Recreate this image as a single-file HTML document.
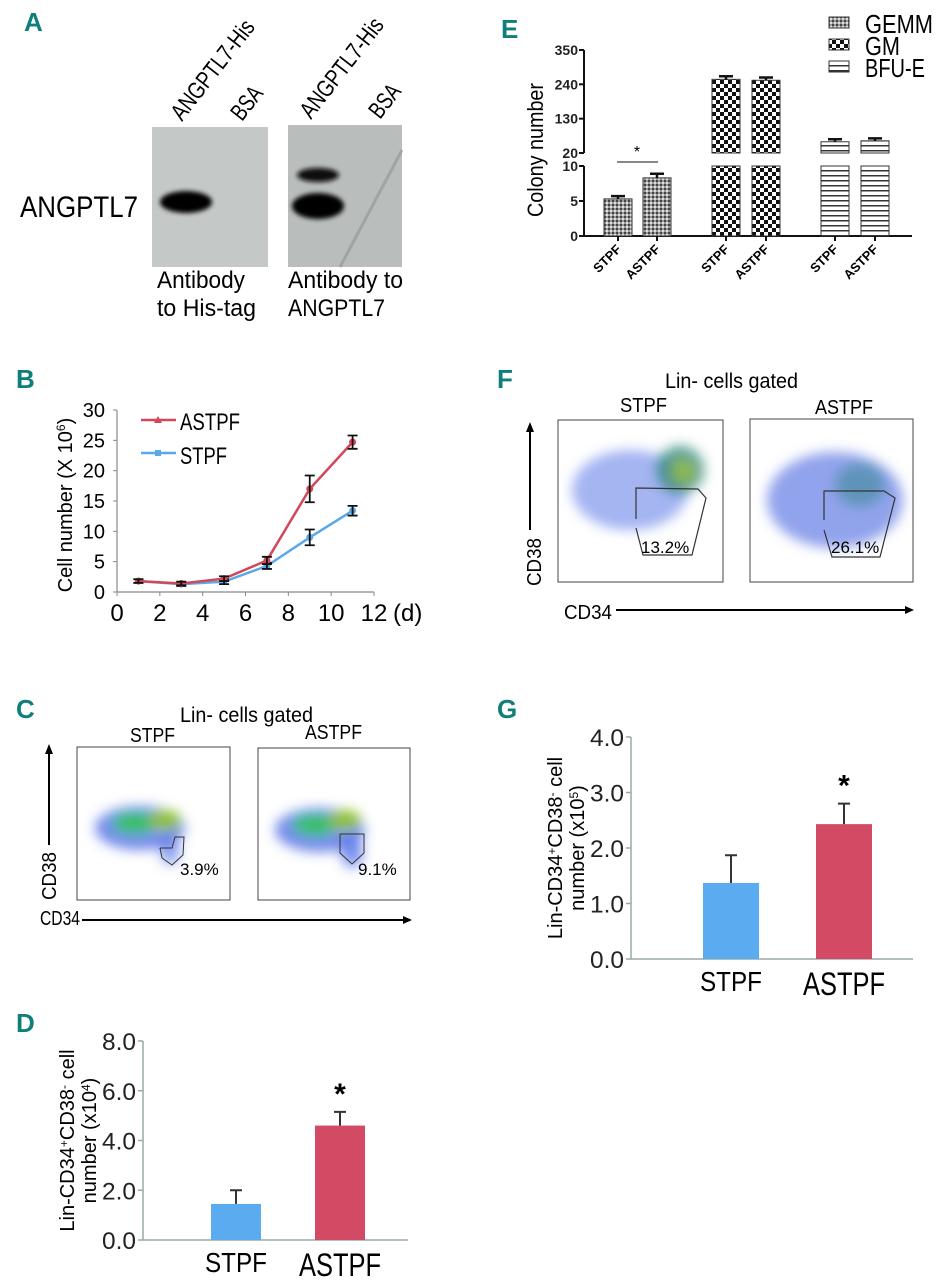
<!DOCTYPE html>
<html><head><meta charset="utf-8"><style>
html,body{margin:0;padding:0;background:#fff;}
svg{display:block;font-family:"Liberation Sans",sans-serif;}
.lt{font-family:"Liberation Sans",sans-serif;font-weight:bold;fill:#0e7f7a;font-size:26px;}
</style></head><body>
<svg id="fig" width="936" height="1280" viewBox="0 0 936 1280" xmlns="http://www.w3.org/2000/svg">
<defs>
 <filter id="bl" x="-50%" y="-50%" width="200%" height="200%"><feGaussianBlur stdDeviation="6"/></filter>
 <filter id="bl2" x="-50%" y="-50%" width="200%" height="200%"><feGaussianBlur stdDeviation="2.5"/></filter>
 <pattern id="pGEMM" width="4" height="4" patternUnits="userSpaceOnUse"><rect width="4" height="4" fill="#9a9a9a"/><rect width="2" height="2" fill="#444"/><rect x="2" y="2" width="2" height="2" fill="#ddd"/></pattern>
 <pattern id="pGM" width="8" height="8" patternUnits="userSpaceOnUse"><rect width="8" height="8" fill="#fff"/><rect width="4" height="4" fill="#111"/><rect x="4" y="4" width="4" height="4" fill="#111"/></pattern>
 <pattern id="pBFU" width="6" height="5" patternUnits="userSpaceOnUse"><rect width="6" height="5" fill="#fff"/><rect y="0" width="6" height="1.5" fill="#333"/></pattern>
</defs>

<!-- Panel A -->
<text class="lt" x="24" y="31">A</text>
<g>
 <rect x="152" y="127" width="116" height="140" fill="#c4c8c6"/>
 <rect x="288" y="125" width="114" height="142" fill="#b9bdbb"/>
 <path d="M402 150 L340 267" stroke="#8f9391" stroke-width="3" fill="none" opacity="0.6"/>
 <ellipse cx="186" cy="202" rx="26" ry="11" fill="#050505" filter="url(#bl2)"/>
 <ellipse cx="318" cy="175" rx="21" ry="7" fill="#080808" filter="url(#bl2)"/>
 <ellipse cx="318" cy="206" rx="26" ry="13" fill="#050505" filter="url(#bl2)"/>
 <text x="20" y="217" font-size="30" textLength="118" lengthAdjust="spacingAndGlyphs">ANGPTL7</text>
 <text transform="translate(182,122) rotate(-52)" font-size="24" textLength="120" lengthAdjust="spacingAndGlyphs">ANGPTL7-His</text>
 <text transform="translate(242,122) rotate(-52)" font-size="24" textLength="36" lengthAdjust="spacingAndGlyphs">BSA</text>
 <text transform="translate(311,120) rotate(-52)" font-size="24" textLength="120" lengthAdjust="spacingAndGlyphs">ANGPTL7-His</text>
 <text transform="translate(380,120) rotate(-52)" font-size="24" textLength="36" lengthAdjust="spacingAndGlyphs">BSA</text>
 <text x="157" y="288" font-size="24" textLength="88" lengthAdjust="spacingAndGlyphs">Antibody</text>
 <text x="157" y="316" font-size="24" textLength="99" lengthAdjust="spacingAndGlyphs">to His-tag</text>
 <text x="288" y="288" font-size="24" textLength="115" lengthAdjust="spacingAndGlyphs">Antibody to</text>
 <text x="288" y="316" font-size="24" textLength="97" lengthAdjust="spacingAndGlyphs">ANGPTL7</text>
</g>

<text class="lt" x="16" y="388">B</text>
<text class="lt" x="16" y="718">C</text>
<text class="lt" x="16" y="1032">D</text>
<text class="lt" x="501" y="38">E</text>
<text class="lt" x="497" y="388">F</text>
<text class="lt" x="497" y="718">G</text>

<!-- Panel C flow -->
<g>
 <text x="180" y="722" font-size="21" textLength="133" lengthAdjust="spacingAndGlyphs">Lin- cells gated</text>
 <text x="130" y="742" font-size="20" textLength="45" lengthAdjust="spacingAndGlyphs">STPF</text>
 <text x="305" y="739" font-size="20" textLength="57" lengthAdjust="spacingAndGlyphs">ASTPF</text>
 <rect x="77" y="747" width="153" height="153" fill="#fff" stroke="#444"/>
 <rect x="258" y="748" width="152" height="152" fill="#fff" stroke="#444"/>
 <g filter="url(#bl)">
  <ellipse cx="140" cy="828" rx="45" ry="22" fill="#3a5be0" opacity="0.7"/>
  <ellipse cx="135" cy="823" rx="22" ry="10" fill="#39c060"/>
  <ellipse cx="165" cy="820" rx="16" ry="10" fill="#8fc030"/>
  <ellipse cx="170" cy="850" rx="10" ry="15" fill="#4a6ae8" opacity="0.6"/>
  <ellipse cx="320" cy="830" rx="45" ry="22" fill="#3a5be0" opacity="0.7"/>
  <ellipse cx="315" cy="825" rx="22" ry="10" fill="#39c060"/>
  <ellipse cx="345" cy="820" rx="16" ry="10" fill="#8fc030"/>
  <ellipse cx="352" cy="852" rx="11" ry="16" fill="#4a6ae8" opacity="0.7"/>
 </g>
 <polyline points="160,848 162,858 172,865 183,855 184,837 175,837 172,848 160,848" fill="none" stroke="#333" stroke-width="1"/>
 <polyline points="340,834 340,853 352,864 364,853 364,834 340,834" fill="none" stroke="#333" stroke-width="1"/>
 <text x="180" y="875" font-size="17">3.9%</text>
 <text x="358" y="875" font-size="17">9.1%</text>
 <line x1="49" y1="845" x2="49" y2="752" stroke="#000" stroke-width="2"/><polygon points="45,754 53,754 49,744" fill="#000"/>
 <text transform="translate(56,900) rotate(-90)" font-size="20" textLength="48" lengthAdjust="spacingAndGlyphs">CD38</text>
 <text x="40" y="925" font-size="20" textLength="40" lengthAdjust="spacingAndGlyphs">CD34</text>
 <line x1="82" y1="920" x2="405" y2="920" stroke="#000" stroke-width="2"/><polygon points="403,916 403,924 412,920" fill="#000"/>
</g>

<!-- Panel F flow -->
<g>
 <text x="665" y="388" font-size="21" textLength="133" lengthAdjust="spacingAndGlyphs">Lin- cells gated</text>
 <text x="620" y="412" font-size="20" textLength="47" lengthAdjust="spacingAndGlyphs">STPF</text>
 <text x="815" y="414" font-size="20" textLength="58" lengthAdjust="spacingAndGlyphs">ASTPF</text>
 <rect x="558" y="420" width="165" height="162" fill="#fff" stroke="#444"/>
 <rect x="750" y="419" width="163" height="163" fill="#fff" stroke="#444"/>
 <g filter="url(#bl)">
  <ellipse cx="630" cy="490" rx="58" ry="40" fill="#5a78e8" opacity="0.55"/>
  <ellipse cx="680" cy="470" rx="24" ry="24" fill="#2f8a7a" opacity="0.8"/>
  <ellipse cx="683" cy="472" rx="12" ry="12" fill="#9ac040" opacity="0.8"/>
  <ellipse cx="835" cy="500" rx="68" ry="48" fill="#4a66e0" opacity="0.6"/>
  <ellipse cx="860" cy="485" rx="25" ry="22" fill="#3d8a9a" opacity="0.6"/>
 </g>
 <polyline points="636,519 636,488 698,489 706,498 692,555 643,555 636,528" fill="none" stroke="#333" stroke-width="1.2"/>
 <polyline points="824,520 824,491 884,491 895,498 880,557 832,557 824,530" fill="none" stroke="#333" stroke-width="1.2"/>
 <text x="641" y="553" font-size="17">13.2%</text>
 <text x="831" y="553" font-size="17">26.1%</text>
 <line x1="530" y1="530" x2="530" y2="430" stroke="#000" stroke-width="2"/><polygon points="526,432 534,432 530,422" fill="#000"/>
 <text transform="translate(541,586) rotate(-90)" font-size="20" textLength="48" lengthAdjust="spacingAndGlyphs">CD38</text>
 <text x="564" y="619" font-size="20" textLength="48" lengthAdjust="spacingAndGlyphs">CD34</text>
 <line x1="616" y1="610" x2="906" y2="610" stroke="#000" stroke-width="2"/><polygon points="905,606 905,614 914,610" fill="#000"/>
</g>

<g id="chartB"></g>
<g id="chartE"></g>
<g id="chartG"></g>
<g id="chartD"></g>
</svg>
<script>
const NS="http://www.w3.org/2000/svg";
// ---- Panel B data
const daysB=[1,3,5,7,9,11];
const astpfB=[1.8,1.4,2.2,5.2,17,24.7];
const astpfErrB=[0.3,0.3,0.4,0.6,2.2,1.1];
const stpfB=[1.8,1.3,1.7,4.3,9,13.4];
const stpfErrB=[0.3,0.3,0.4,0.5,1.3,0.8];
const xTicksB=[0,2,4,6,8,10,12];
const yTicksB=[0,5,10,15,20,25,30];
// ---- Panel E data
const eGroups=["GEMM","GM","BFU-E"];
const eConds=["STPF","ASTPF"];
const eValues=[5.3,8.3,256,253,56,59];
const eErrors=[0.4,0.6,10,9,8,8];
const eTicksLow=[0,5,10];
const eTicksHigh=[20,130,240,350];
// ---- Panel G data
const gCats=["STPF","ASTPF"];
const gValues=[1.37,2.43];
const gErrors=[0.5,0.37];
const gTicks=[0,1,2,3,4];
// ---- Panel D data
const dCats=["STPF","ASTPF"];
const dValues=[1.45,4.6];
const dErrors=[0.55,0.55];
const dTicks=[0,2,4,6,8];

function mk(tag,attrs,parent){const e=document.createElementNS(NS,tag);for(const k in attrs)e.setAttribute(k,attrs[k]);parent.appendChild(e);return e;}

// ===== Panel B
(function(){
 const g=document.getElementById('chartB');
 const xs=v=>117+(v/12)*(374-117);
 const ys=v=>592-(v/30)*(592-410);
 let ax=mk('path',{d:`M117 410 L117 592 L374 592`,stroke:'#888',fill:'none','stroke-width':1.2},g);
 
 
 yTicksB.forEach(t=>{
  mk('line',{x1:113,x2:117,y1:ys(t),y2:ys(t),stroke:'#888'},g);
  let tx=mk('text',{x:105,y:ys(t)+7,'font-size':20,'text-anchor':'end'},g);tx.textContent=t;
  
  
 });
 xTicksB.forEach(t=>{
  mk('line',{x1:xs(t),x2:xs(t),y1:592,y2:596,stroke:'#888'},g);
  let tx=mk('text',{x:xs(t),y:621,'font-size':24,'text-anchor':'middle'},g);tx.textContent=t;
  
  
 });
 let dl=mk('text',{x:393,y:621,'font-size':24},g);dl.textContent='(d)';
 
 
 let yl=mk('text',{transform:'translate(72,505) rotate(-90)','font-size':20,'text-anchor':'middle'},g);
 yl.innerHTML='Cell number (X 10<tspan font-size="12" dy="-7">6</tspan><tspan dy="7">)</tspan>';
 
 
 [[stpfB,stpfErrB,'#5aa8e8','stpf'],[astpfB,astpfErrB,'#d0485a','astpf']].forEach(([vals,errs,col,nm])=>{
  let p=mk('polyline',{points:daysB.map((d,i)=>xs(d)+','+ys(vals[i])).join(' '),stroke:col,'stroke-width':2.5,fill:'none'},g);
  
  
  daysB.forEach((d,i)=>{
   let c=mk('circle',{cx:xs(d),cy:ys(vals[i]),r:3.5,fill:col},g);
   
   
   const x=xs(d),y1=ys(vals[i]+errs[i]),y2=ys(vals[i]-errs[i]);
   let e=mk('path',{d:`M${x-5} ${y1} H${x+5} M${x} ${y1} V${y2} M${x-5} ${y2} H${x+5}`,stroke:'#111','stroke-width':1.8,fill:'none'},g);
   
   
  });
 });
 mk('line',{x1:141,x2:176,y1:420,y2:420,stroke:'#d0485a','stroke-width':2.5},g);
 mk('polygon',{points:'158,416 162,423 154,423',fill:'#d0485a'},g);
 let l1=mk('text',{x:180,y:430,'font-size':24,textLength:60,lengthAdjust:'spacingAndGlyphs'},g);l1.textContent='ASTPF';
 
 
 mk('line',{x1:141,x2:176,y1:453,y2:453,stroke:'#5aa8e8','stroke-width':2.5},g);
 mk('rect',{x:155,y:450,width:6,height:6,fill:'#5aa8e8'},g);
 let l2=mk('text',{x:180,y:464,'font-size':24,textLength:47,lengthAdjust:'spacingAndGlyphs'},g);l2.textContent='STPF';
 
 
})();

// ===== Panel E
(function(){
 const g=document.getElementById('chartE');
 const yl=v=>236-(v/10)*(236-166);
 const yh=v=>153-((v-20)/330)*(153-50);
 const ym=v=>v<=10?yl(v):yh(v);
 const pats=['url(#pGEMM)','url(#pGM)','url(#pBFU)'];
 const centers=[618,657,726,766,835,875];
 mk('path',{d:'M584 50 V153 M584 166 V236 H912',stroke:'#111','stroke-width':2,fill:'none'},g);
 eTicksLow.forEach(t=>{mk('line',{x1:579,x2:584,y1:yl(t),y2:yl(t),stroke:'#111','stroke-width':2},g);
  let tx=mk('text',{x:578,y:yl(t)+5,'font-size':14,'font-weight':'bold','text-anchor':'end',fill:'#222'},g);tx.textContent=t;
  
  });
 eTicksHigh.forEach(t=>{mk('line',{x1:579,x2:584,y1:yh(t),y2:yh(t),stroke:'#111','stroke-width':2},g);
  let tx=mk('text',{x:578,y:yh(t)+5,'font-size':14,'font-weight':'bold','text-anchor':'end',fill:'#222'},g);tx.textContent=t;
  
  });
 let ttl=mk('text',{transform:'translate(543,150) rotate(-90)','font-size':22,'text-anchor':'middle',textLength:134,lengthAdjust:'spacingAndGlyphs'},g);ttl.textContent='Colony number';
 
 
 eValues.forEach((v,i)=>{
  const cx=centers[i],w=28,fill=pats[Math.floor(i/2)];
  if(v<=10){
   let r=mk('rect',{x:cx-w/2,y:yl(v),width:w,height:236-yl(v),fill:fill,stroke:'#333'},g);
   
   
  } else {
   let r1=mk('rect',{x:cx-w/2,y:166,width:w,height:70,fill:fill,stroke:'#333'},g);
   
   
   let r2=mk('rect',{x:cx-w/2,y:yh(v),width:w,height:153-yh(v),fill:fill,stroke:'#333'},g);
   
   
  }
  const ye=ym(v+eErrors[i]);
  let e=mk('path',{d:`M${cx} ${ym(v)} V${ye} M${cx-7} ${ye} H${cx+7}`,stroke:'#111','stroke-width':2.5,fill:'none'},g);
  
  
  mk('line',{x1:cx,x2:cx,y1:236,y2:241,stroke:'#111','stroke-width':2},g);
  let lb=mk('text',{transform:`translate(${cx+4},${250}) rotate(-45)`,'font-size':13,'font-weight':'bold','text-anchor':'end'},g);
  lb.textContent=eConds[i%2];
  
  
 });
 mk('line',{x1:617,x2:658,y1:162,y2:162,stroke:'#111'},g);
 let st=mk('text',{x:637,y:157,'font-size':16,'text-anchor':'middle'},g);st.textContent='*';
 
 
 const legW=[68,35,60];
 eGroups.forEach((nm,i)=>{
  const y=17+i*22;
  mk('rect',{x:829,y:y,width:20,height:11,fill:pats[i],stroke:'#333'},g);
  let t=mk('text',{x:865,y:y+16,'font-size':26,textLength:legW[i],lengthAdjust:'spacingAndGlyphs'},g);t.textContent=nm;
  
  
 });
})();

// ===== Bar helper for G and D
function barChart(id,cats,vals,errs,ticks,ax,yTop,yBot,vmax,centers,bw,xEnd,exp,titleX){
 const g=document.getElementById(id);
 const ys=v=>yBot-(v/vmax)*(yBot-yTop);
 mk('path',{d:`M${ax} ${yTop} V${yBot} H${xEnd}`,stroke:'#9aa8a8','stroke-width':1.5,fill:'none'},g);
 ticks.forEach(t=>{mk('line',{x1:ax-5,x2:ax,y1:ys(t),y2:ys(t),stroke:'#9aa8a8','stroke-width':1.5},g);
  let tx=mk('text',{x:ax-7,y:ys(t)+9,'font-size':24,'text-anchor':'end',fill:'#222',textLength:34,lengthAdjust:'spacingAndGlyphs'},g);tx.textContent=t.toFixed(1);
  
  });
 const cols=['#5aabf0','#d34a64'];
 cats.forEach((c,i)=>{
  const cx=centers[i];
  let r=mk('rect',{x:cx-bw/2,y:ys(vals[i]),width:bw,height:yBot-ys(vals[i]),fill:cols[i]},g);
  
  
  const ye=ys(vals[i]+errs[i]);
  let e=mk('path',{d:`M${cx} ${ys(vals[i])} V${ye} M${cx-6} ${ye} H${cx+6}`,stroke:'#333','stroke-width':2,fill:'none'},g);
  
  
  let lb=mk('text',{x:cx,y:yBot+32+i*4,'font-size':i?32:28,'text-anchor':'middle',textLength:i?82:62,lengthAdjust:'spacingAndGlyphs'},g);lb.textContent=c;
  
  
 });
 let st=mk('text',{x:centers[1],y:ys(vals[1]+errs[1])-8,'font-size':30,'text-anchor':'middle','font-weight':'bold'},g);st.textContent='*';
 
 
 const cy=(yTop+yBot)/2;
 let t1=mk('text',{transform:`translate(${titleX},${cy}) rotate(-90)`,'font-size':20,'text-anchor':'middle'},g);
 t1.innerHTML='Lin-CD34<tspan font-size="12" dy="-6">+</tspan><tspan dy="6">CD38</tspan><tspan font-size="12" dy="-6">-</tspan><tspan dy="6"> cell</tspan>';
 
 
 let t2=mk('text',{transform:`translate(${titleX+22},${cy}) rotate(-90)`,'font-size':20,'text-anchor':'middle'},g);
 t2.innerHTML='number (x10<tspan font-size="12" dy="-6">'+exp+'</tspan><tspan dy="6">)</tspan>';
 
 
}
barChart('chartG',gCats,gValues,gErrors,gTicks,631,737,959,4,[731,844],56,913,'5',562);
barChart('chartD',dCats,dValues,dErrors,dTicks,143,1041,1240,8,[236,340],50,408,'4',74);
</script>
</body></html>
